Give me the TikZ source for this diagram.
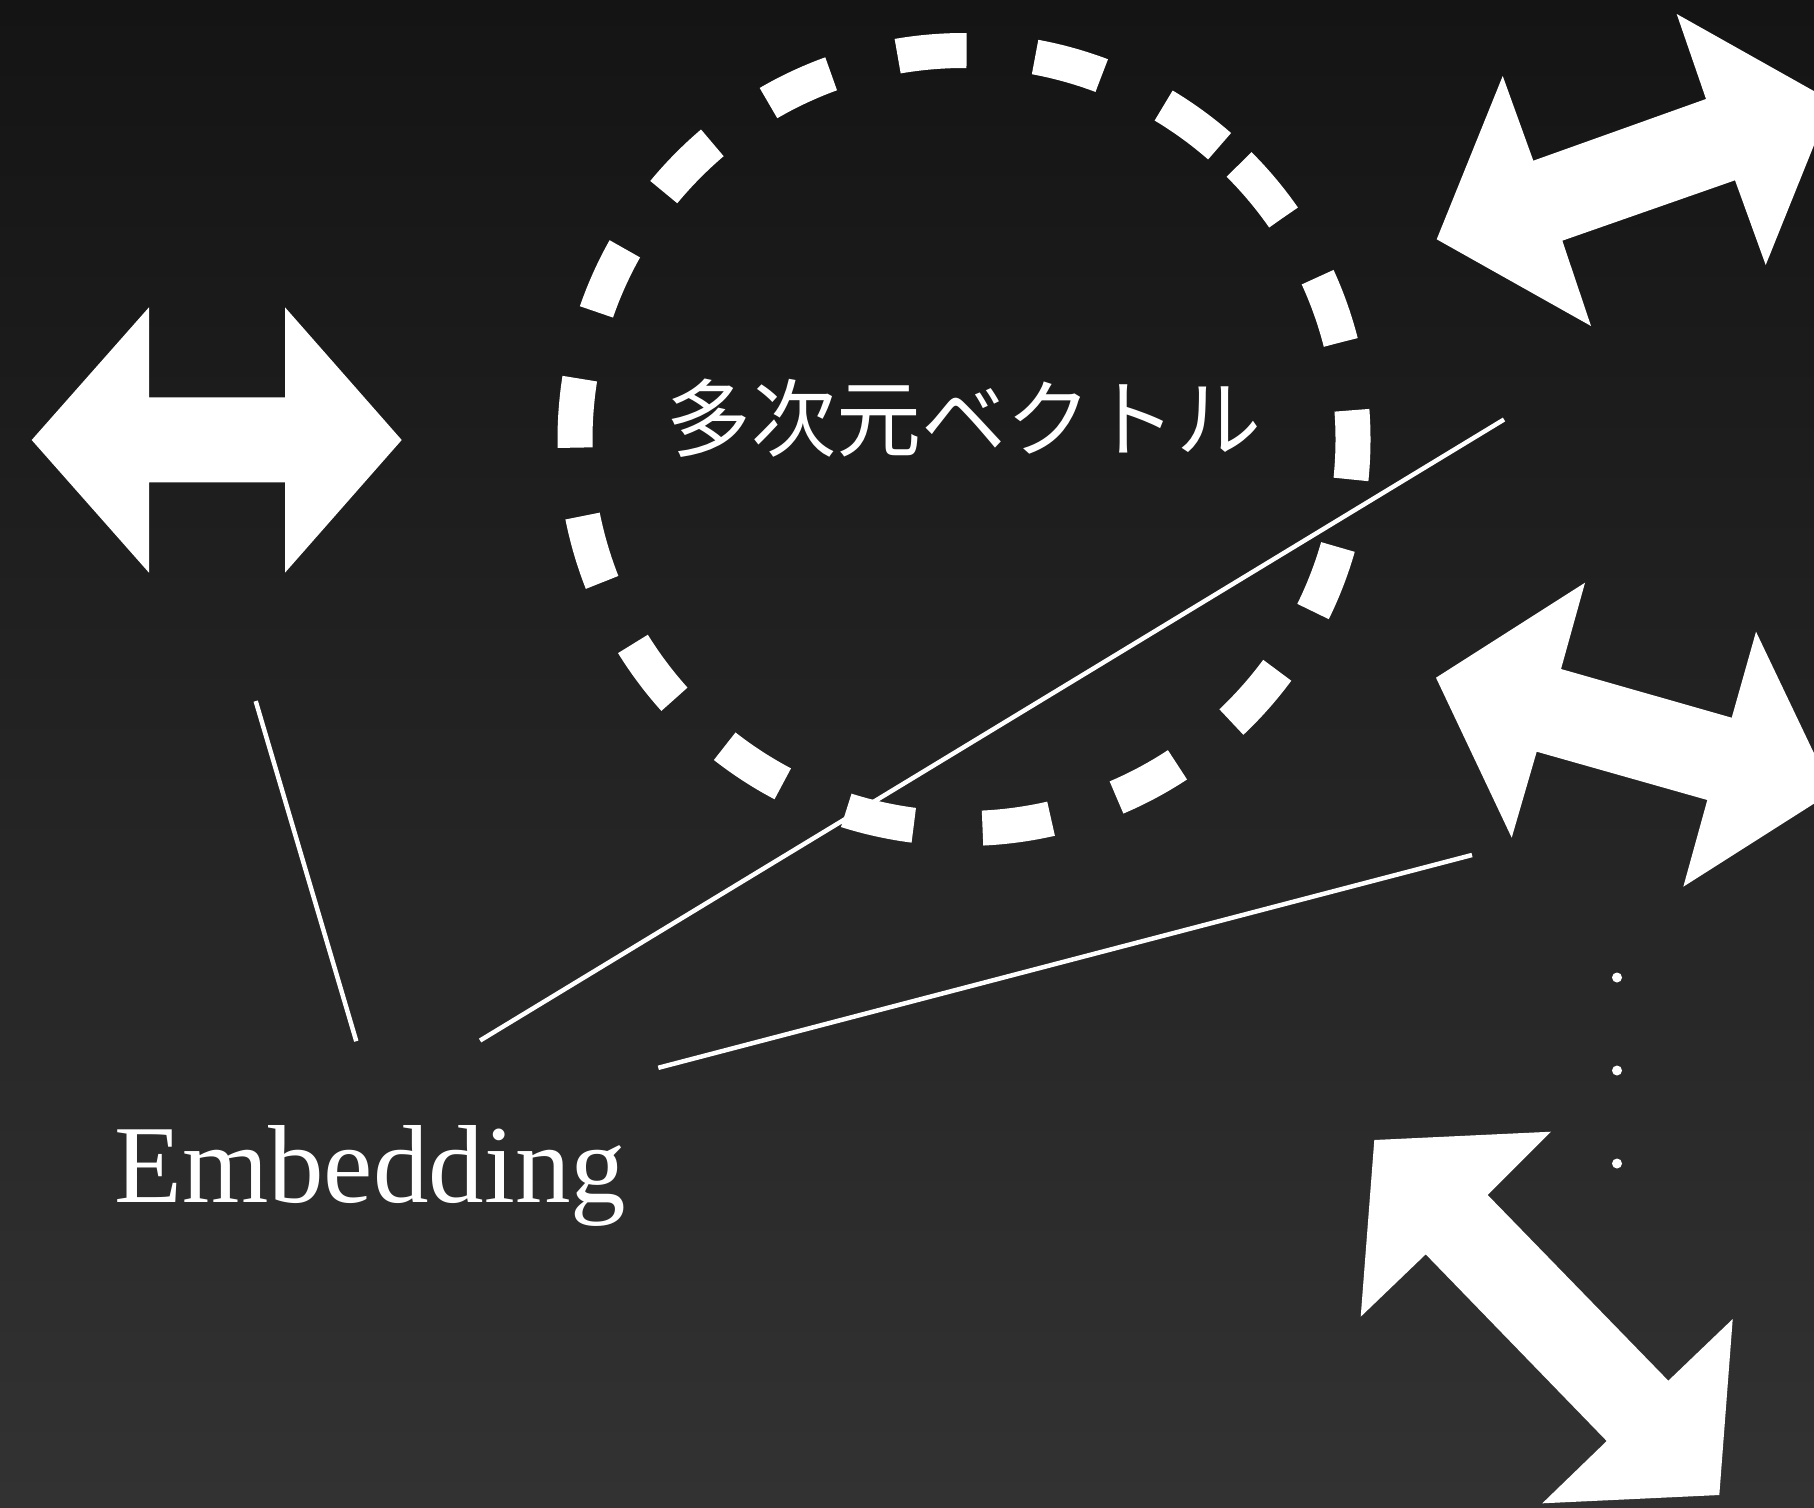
\documentclass[tikz,border=0pt]{standalone}
\usepackage{fontspec}
\newfontfamily\jpfont{Noto Sans CJK JP}
\newfontfamily\enfont{Liberation Serif}
\definecolor{bgtop}{HTML}{141414}
\definecolor{bgbot}{HTML}{323232}
\tikzset{
  shapefill/.style={fill=white},
  ring/.style={draw=white, line width=35pt, line cap=butt, dash pattern=on 69.25pt off 68.9pt},
  thinline/.style={draw=white, line width=4.5pt},
  dotmark/.style={fill=white},
  lbl/.style={text=white, inner sep=0pt}
}
\begin{document}
\begin{tikzpicture}[x=1pt,y=-1pt]
\shade[top color=bgtop, bottom color=bgbot] (0,0) rectangle (1814,1507);
\useasboundingbox (0,0) rectangle (1814,1507);

% dashed ring
\coordinate (ringc) at (964,439.5);
\draw[ring] (ringc) ++(-45:389) arc[start angle=-45, end angle=315, radius=389];

% left double arrow
\fill[shapefill] (31.7,440) -- (149,307.3) -- (149,397.3) -- (285,397.3) -- (285,307.3)
  -- (401.7,440) -- (285,572.7) -- (285,482.3) -- (149,482.3) -- (149,572.7) -- cycle;

% right arrow 1
\fill[shapefill] (1436.7,239.3) -- (1502.7,76) -- (1533.3,160.7) -- (1706,99) -- (1676.7,14)
  -- (1831.7,101.1) -- (1765.7,265) -- (1735,180.3) -- (1562.3,240.7) -- (1591,326) -- cycle;

% right arrow 2
\fill[shapefill] (1436,677.7) -- (1585,582.7) -- (1561,669) -- (1731.7,717.7) -- (1756,631.7)
  -- (1832.4,791.9) -- (1683.3,886.7) -- (1707.3,800) -- (1536.7,751.7) -- (1511.7,837.7) -- cycle;

% right arrow 3
\fill[shapefill] (1374.3,1140) -- (1551,1131.7) -- (1487.7,1195) -- (1668.3,1380.7) -- (1732.7,1319)
  -- (1719.3,1495) -- (1542.3,1503.3) -- (1606.7,1441) -- (1425.7,1254.3) -- (1360.7,1316.7) -- cycle;

% dots
\fill[dotmark] (1617,977.5) circle[radius=5];
\fill[dotmark] (1617,1070.5) circle[radius=5];
\fill[dotmark] (1617,1163.5) circle[radius=5];

% lines
\coordinate (l1a) at (255.7,701.1);
\coordinate (l1b) at (356.3,1041.2);
\coordinate (l2a) at (480.1,1040.5);
\coordinate (l2b) at (1504,419.5);
\coordinate (l3a) at (658.3,1067.8);
\coordinate (l3b) at (1472,855);
\draw[thinline] (l1a) -- (l1b);
\draw[thinline] (l2a) -- (l2b);
\draw[thinline] (l3a) -- (l3b);

% texts
\node[lbl, font=\jpfont\fontsize{85pt}{100pt}\selectfont] (jp) at (964,418.5) {多次元ベクトル};
\node[lbl, anchor=base west, font=\enfont\fontsize{111pt}{120pt}\selectfont] (emb) at (114,1202.5) {Embedding};
\end{tikzpicture}
\end{document}
